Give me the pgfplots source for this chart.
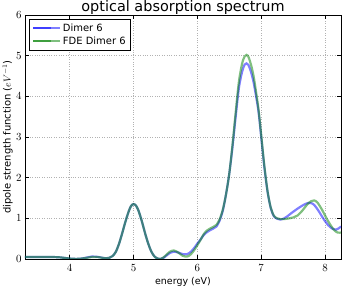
\documentclass[border=0pt]{standalone}
\usepackage{pgfplots}
\pgfplotsset{compat=1.18}
\usepackage{fontspec}
\setmainfont{DejaVu Sans}
\definecolor{mblue}{rgb}{0,0,1}
\definecolor{mgreen}{rgb}{0,0.5,0}
\begin{document}
\begin{tikzpicture}
\begin{axis}[
  scale only axis, width=316bp, height=244bp,
  xmin=3.3, xmax=8.25, ymin=0, ymax=6,
  xtick={4,5,6,7,8}, ytick={0,1,2,3,4,5,6},
  grid=major, major grid style={gray!60, dash pattern=on 0.6bp off 1.8bp, line width=0.5pt},
  axis line style={line width=0.9pt},
  tick style={black, line width=0.5pt}, tick align=inside,
  major tick length=4bp,
  ticklabel style={font=\fontsize{10.5}{11}\selectfont},
  xticklabel style={yshift=-2bp},
  title={optical absorption spectrum},
  every axis title/.style={font=\fontsize{14.5}{16}\selectfont, at={(rel axis cs:0.5,1)}, anchor=base, yshift=3bp, inner sep=0pt},
  xlabel={energy (eV)},
  every axis x label/.style={font=\fontsize{9.5}{11}\selectfont, at={(rel axis cs:0.5,0)}, anchor=base, yshift=-25bp, inner sep=0pt},
  ylabel={dipole strength function ($eV^{-1}$)},
  every axis y label/.style={font=\fontsize{10}{12}\selectfont, at={(rel axis cs:0,0.5)}, rotate=90, anchor=south, yshift=12bp, inner sep=0pt},
  legend style={at={(0.0127,0.9836)}, anchor=north west, draw=black, line width=0.5pt,
    font=\fontsize{10}{12}\selectfont, row sep=0bp, inner xsep=3bp, inner ysep=2.5bp},
  legend cell align=left,
  legend image code/.code={\draw[#1, line width=2pt] (0bp,0bp) -- (18bp,0bp); \path (0bp,0bp) -- (26.5bp,0bp);},
  clip=true,
]
\coordinate (bl) at (rel axis cs:0,0);
\coordinate (tr) at (rel axis cs:1,1);
\addplot[mblue, opacity=0.5, line width=2.2pt, smooth, tension=0.5] coordinates {
(3.3,0.05)(3.5,0.05)(3.7,0.05)(3.85,0.04)(3.95,0.02)(4.05,0.005)(4.15,0.005)(4.25,0.03)(4.35,0.06)(4.45,0.05)(4.55,0.02)(4.62,0.03)
(4.67,0.07)(4.72,0.17)(4.77,0.36)(4.82,0.62)(4.87,0.9)(4.92,1.15)(4.96,1.3)(5.0,1.35)(5.04,1.31)(5.08,1.18)(5.13,0.93)(5.18,0.64)(5.23,0.38)(5.28,0.18)(5.33,0.06)(5.38,0.01)(5.42,0.0)(5.47,0.03)(5.52,0.09)(5.57,0.15)(5.63,0.18)(5.7,0.16)(5.77,0.12)(5.84,0.12)(5.9,0.18)(5.96,0.29)(6.0,0.38)(6.05,0.48)(6.1,0.59)(6.15,0.66)(6.2,0.71)(6.25,0.75)(6.3,0.8)(6.35,0.95)(6.4,1.2)(6.45,1.6)(6.5,2.1)(6.55,2.75)(6.6,3.5)(6.65,4.2)(6.7,4.6)(6.74,4.78)(6.77,4.81)(6.8,4.77)(6.84,4.6)(6.88,4.35)(6.92,4.0)(6.96,3.6)(7.0,3.0)(7.05,2.25)(7.1,1.65)(7.15,1.25)(7.2,1.05)(7.25,0.99)(7.3,0.97)(7.35,0.99)(7.4,1.04)(7.5,1.16)(7.6,1.27)(7.7,1.36)(7.77,1.38)(7.83,1.33)(7.9,1.18)(7.97,1.0)(8.05,0.83)(8.12,0.74)(8.17,0.72)(8.21,0.75)(8.25,0.8)
};
\addlegendentry{Dimer 6}
\addplot[mgreen, opacity=0.5, line width=2.2pt, smooth, tension=0.5] coordinates {
(3.3,0.05)(3.5,0.05)(3.7,0.05)(3.85,0.04)(3.95,0.02)(4.05,0.005)(4.15,0.005)(4.25,0.025)(4.35,0.05)(4.45,0.045)(4.55,0.02)(4.62,0.03)
(4.67,0.07)(4.72,0.17)(4.77,0.36)(4.82,0.62)(4.87,0.9)(4.92,1.15)(4.96,1.3)(5.0,1.35)(5.04,1.31)(5.08,1.18)(5.13,0.93)(5.18,0.64)(5.23,0.38)(5.28,0.18)(5.33,0.06)(5.38,0.01)(5.42,0.0)(5.47,0.04)(5.52,0.11)(5.57,0.18)(5.63,0.21)(5.7,0.16)(5.77,0.08)(5.84,0.06)(5.9,0.12)(5.96,0.24)(6.0,0.34)(6.05,0.47)(6.1,0.61)(6.15,0.7)(6.2,0.75)(6.25,0.79)(6.3,0.84)(6.35,0.98)(6.4,1.22)(6.45,1.6)(6.5,2.1)(6.55,2.8)(6.6,3.6)(6.65,4.35)(6.7,4.8)(6.74,4.98)(6.77,5.02)(6.8,4.97)(6.84,4.78)(6.88,4.5)(6.92,4.1)(6.96,3.65)(7.0,3.05)(7.05,2.28)(7.1,1.66)(7.15,1.26)(7.2,1.06)(7.25,1.0)(7.3,0.98)(7.35,0.98)(7.4,0.99)(7.5,1.02)(7.57,1.07)(7.65,1.2)(7.72,1.34)(7.78,1.42)(7.83,1.44)(7.88,1.39)(7.95,1.22)(8.03,0.98)(8.1,0.8)(8.15,0.7)(8.2,0.65)(8.25,0.65)
};
\addlegendentry{FDE Dimer 6}
\end{axis}
\pgfresetboundingbox
\path ([shift={(-25bp,-29bp)}]bl) rectangle ([shift={(1bp,15bp)}]tr);
\end{tikzpicture}
\end{document}
